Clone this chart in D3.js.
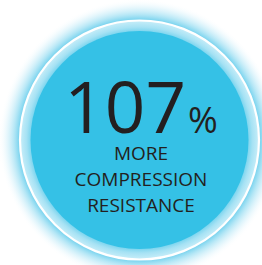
<!DOCTYPE html>
<html>
<head>
<meta charset="utf-8">
<script src="https://cdn.jsdelivr.net/npm/d3@7"></script>
<style>
  html, body { margin: 0; padding: 0; background: #ffffff; }
  svg { display: block; }
</style>
</head>
<body>
<svg id="chart" width="262" height="265"></svg>
<script>
const values = [107];
const units = ["%"];
const labelLines = ["MORE", "COMPRESSION", "RESISTANCE"];

const svg = d3.select("#chart");
const cx = 139.5, cy = 140;
const rInner = 109, rRing = 119.5, rGlow = 141;

const defs = svg.append("defs");
const glow = defs.append("radialGradient").attr("id", "glow")
  .attr("gradientUnits", "userSpaceOnUse")
  .attr("cx", cx).attr("cy", cy).attr("r", rGlow);
[[0, "#5fcbea", 1], [rRing / rGlow, "#6fd0ed", 1], [(rRing + 6) / rGlow, "#a6e2f4", 0.85],
 [(rRing + 14) / rGlow, "#dbf3fb", 0.55], [1, "#ffffff", 0]].forEach(([o, c, a]) =>
  glow.append("stop").attr("offset", o).attr("stop-color", c).attr("stop-opacity", a));

const band = defs.append("radialGradient").attr("id", "band")
  .attr("gradientUnits", "userSpaceOnUse")
  .attr("cx", cx).attr("cy", cy).attr("r", rRing);
[[rInner / rRing, "#7fd6ef"], [(rInner + 4) / rRing, "#a6e2f4"], [1, "#c8eef9"]].forEach(([o, c]) =>
  band.append("stop").attr("offset", o).attr("stop-color", c));

svg.append("circle").attr("cx", cx).attr("cy", cy).attr("r", rGlow).attr("fill", "url(#glow)");
svg.append("circle").attr("cx", cx).attr("cy", cy).attr("r", rRing).attr("fill", "url(#band)");
svg.append("circle").attr("cx", cx).attr("cy", cy).attr("r", rRing)
  .attr("fill", "none").attr("stroke", "#ffffff").attr("stroke-width", 2.2);
svg.append("circle").attr("cx", cx).attr("cy", cy).attr("r", rInner).attr("fill", "#35c1e6");

const font = "'Open Sans', 'Noto Sans', sans-serif";
const big = svg.append("text")
  .attr("x", 141).attr("y", 133)
  .attr("text-anchor", "middle")
  .attr("font-family", font)
  .attr("fill", "#231f20");
big.selectAll("tspan.v").data(values).join("tspan").attr("class", "v")
  .attr("font-size", 71).text(d => d);
big.selectAll("tspan.u").data(units).join("tspan").attr("class", "u")
  .attr("font-size", 36).attr("dx", 2).text(d => d);

const lineY = d3.scalePoint().domain(labelLines).range([160, 212]);
svg.selectAll("text.lbl").data(labelLines).join("text").attr("class", "lbl")
  .attr("x", 141).attr("y", d => lineY(d))
  .attr("text-anchor", "middle")
  .attr("font-family", font).attr("font-size", 19)
  .attr("fill", "#231f20")
  .text(d => d);
</script>
</body>
</html>
